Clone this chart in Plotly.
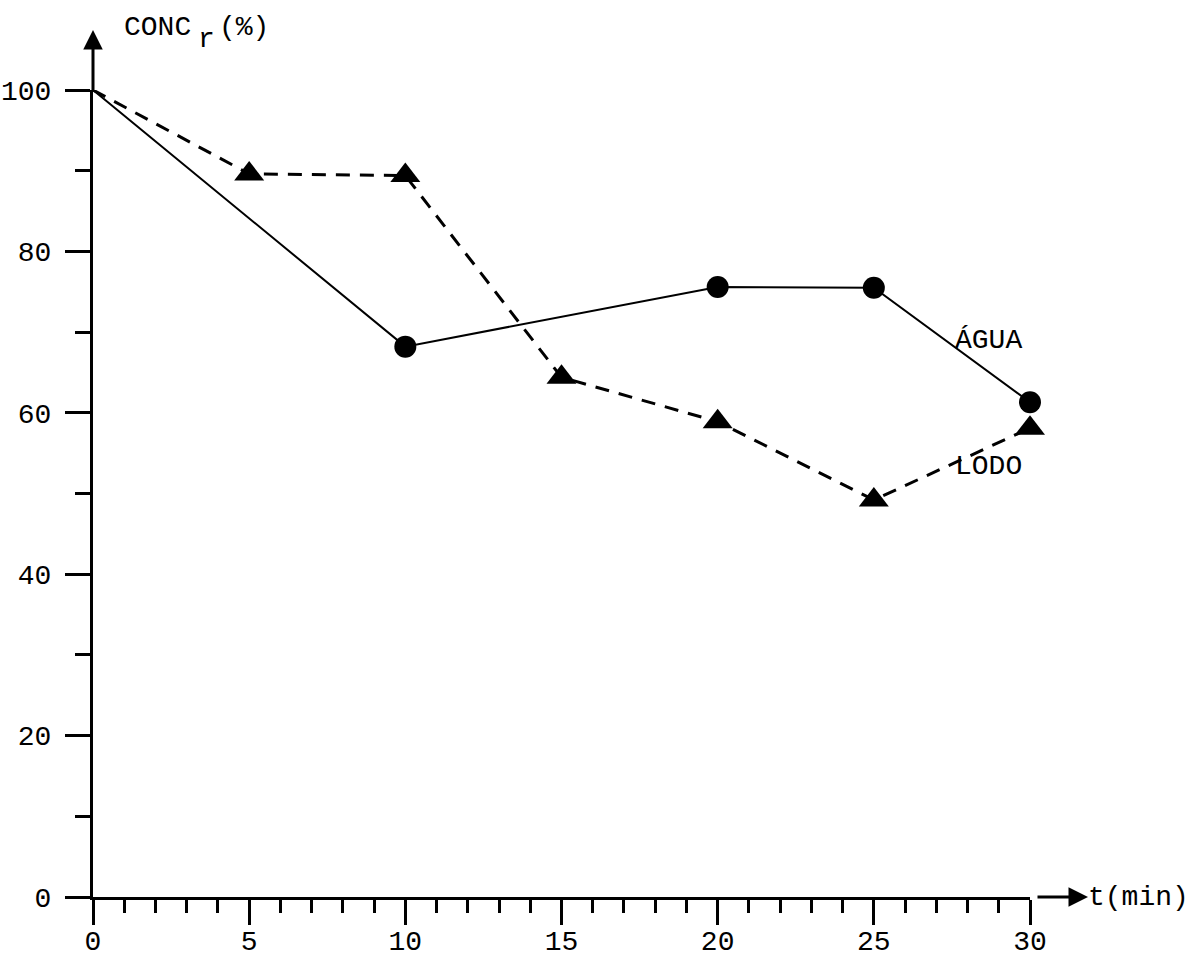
import plotly.graph_objects as go

# Data
t_agua = [0, 10, 20, 25, 30]
conc_agua = [100, 68.2, 75.6, 75.5, 61.3]

t_lodo = [0, 5, 10, 15, 20, 25, 30]
conc_lodo = [100, 89.6, 89.4, 64.4, 58.9, 49.2, 58.1]

x_ticks = [0, 5, 10, 15, 20, 25, 30]
y_ticks = [0, 20, 40, 60, 80, 100]
y_ticktext = ["0", "20", "40", "60", "80", "100"]

FONT = "Liberation Mono"
W, H = 1199, 969
L, R, T, B = 93, 169, 90, 72

fig = go.Figure()

# ÁGUA: solid line with circles (no marker at origin point)
fig.add_trace(go.Scatter(x=t_agua, y=conc_agua, mode="lines",
                         line=dict(color="black", width=2), cliponaxis=False,
                         showlegend=False, hoverinfo="skip"))
fig.add_trace(go.Scatter(x=t_agua[1:], y=conc_agua[1:], mode="markers",
                         marker=dict(color="black", size=22, symbol="circle"),
                         cliponaxis=False, showlegend=False))

# LODO: dashed line with triangles
fig.add_trace(go.Scatter(x=t_lodo, y=conc_lodo, mode="lines",
                         line=dict(color="black", width=3, dash="14px,10px"),
                         cliponaxis=False, showlegend=False, hoverinfo="skip"))
fig.add_trace(go.Scatter(x=t_lodo[1:], y=conc_lodo[1:], mode="markers",
                         marker=dict(color="black", size=26, symbol="triangle-up"),
                         cliponaxis=False, showlegend=False))

pw = W - L - R
ph = H - T - B

def px_to_paper_x(px):
    return (px - L) / pw

def px_to_paper_y(py):
    return (H - B - py) / ph

tf = dict(family=FONT, size=28, color="black")

annotations = [
    # y-axis arrow
    dict(xref="paper", yref="paper", x=0, y=px_to_paper_y(30), ax=0, ay=62,
         axref="pixel", ayref="pixel", text="", showarrow=True,
         arrowhead=2, arrowsize=1.3, arrowwidth=3, arrowcolor="black"),
    # x-axis arrow
    dict(xref="paper", yref="paper", x=px_to_paper_x(1088), y=0, ax=-52, ay=0,
         text="", showarrow=True, arrowhead=2, arrowsize=1.3, arrowwidth=3,
         arrowcolor="black"),
    dict(xref="paper", yref="paper", x=px_to_paper_x(1086), y=0,
         xanchor="left", yanchor="middle", text="t(min)", showarrow=False,
         font=tf),
    # y-axis title: CONC r (%) with lowered r
    dict(xref="paper", yref="paper", x=px_to_paper_x(122), y=px_to_paper_y(27),
         xanchor="left", yanchor="middle", text="CONC", showarrow=False,
         font=tf),
    dict(xref="paper", yref="paper", x=px_to_paper_x(196), y=px_to_paper_y(40),
         xanchor="left", yanchor="middle", text="r", showarrow=False,
         font=tf),
    dict(xref="paper", yref="paper", x=px_to_paper_x(217), y=px_to_paper_y(27),
         xanchor="left", yanchor="middle", text="(%)", showarrow=False,
         font=tf),
    dict(xref="x", yref="y", x=27.55, y=68.9, xanchor="left", yanchor="middle",
         text="ÁGUA", showarrow=False, font=tf),
    dict(xref="x", yref="y", x=27.55, y=53.3, xanchor="left", yanchor="middle",
         text="LODO", showarrow=False, font=tf),
]

fig.update_layout(
    width=W, height=H,
    margin=dict(l=L, r=R, t=T, b=B, autoexpand=False),
    paper_bgcolor="white", plot_bgcolor="white",
    annotations=annotations,
    showlegend=False,
    xaxis=dict(range=[0, 30], tickvals=x_ticks, ticks="outside", ticklen=25,
               tickwidth=3, tickcolor="black", showline=True, linewidth=3,
               linecolor="black", showgrid=False, zeroline=False,
               ticklabelstandoff=-9,
               minor=dict(dtick=1, ticks="outside", ticklen=13, tickwidth=3,
                          tickcolor="black", showgrid=False),
               tickfont=tf, automargin=False),
    yaxis=dict(range=[0, 100], tickvals=y_ticks, ticktext=y_ticktext,
               ticks="outside", ticklen=25, tickwidth=3, tickcolor="black",
               showline=True, linewidth=3, linecolor="black", showgrid=False,
               zeroline=False, ticklabelstandoff=8,
               minor=dict(dtick=10, ticks="outside", ticklen=15, tickwidth=3,
                          tickcolor="black", showgrid=False),
               tickfont=tf, automargin=False),
)

fig.write_html("out.html", config={"displayModeBar": False},
               post_script="document.body.style.margin='0';document.body.style.overflow='hidden';")
